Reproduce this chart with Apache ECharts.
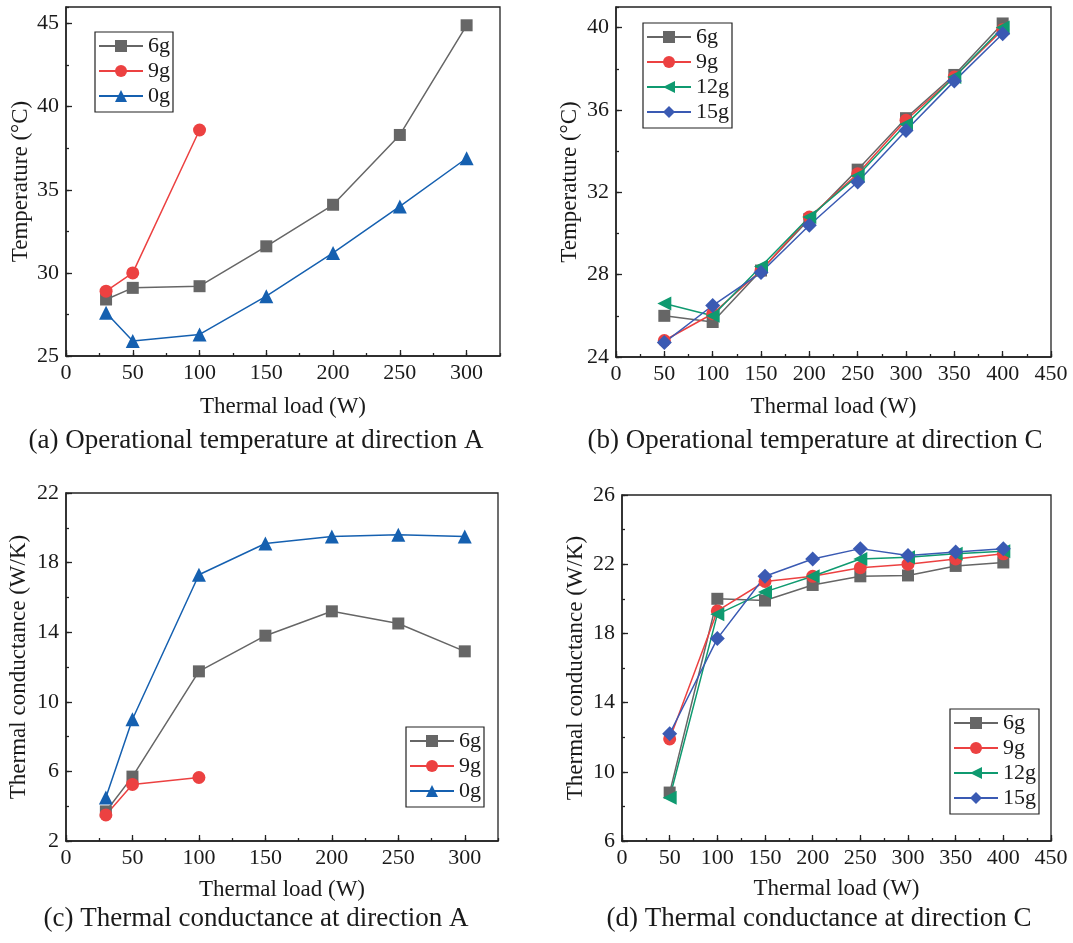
<!DOCTYPE html>
<html>
<head>
<meta charset="utf-8">
<title>Thermal load</title>
<script src="https://cdn.jsdelivr.net/npm/echarts@6/dist/echarts.min.js"></script>
<style>
    html, body { margin: 0; padding: 0; background: #fff; }
    #main { width: 1073px; height: 943px; }
</style>
</head>
<body>
<div id="main"></div>
<script>
// x 轴数据
var loadA = [30, 50, 100, 150, 200, 250, 300];
var loadC = [50, 100, 150, 200, 250, 300, 350, 400];

// (a) 方向A 工作温度
var tempA6 = [28.4, 29.1, 29.2, 31.6, 34.1, 38.3, 44.9];
var tempA9 = [28.9, 30.0, 38.6];
var tempA0 = [27.6, 25.9, 26.3, 28.6, 31.2, 34.0, 36.9];

// (b) 方向C 工作温度
var tempC6 = [26.0, 25.7, 28.2, 30.7, 33.1, 35.6, 37.7, 40.2];
var tempC9 = [24.8, 26.1, 28.2, 30.8, 32.9, 35.5, 37.6, 39.9];
var tempC12 = [26.6, 26.0, 28.4, 30.8, 32.8, 35.3, 37.6, 40.0];
var tempC15 = [24.7, 26.5, 28.1, 30.4, 32.5, 35.0, 37.4, 39.7];

// (c) 方向A 热导
var condA6 = [3.7, 5.7, 11.75, 13.8, 15.2, 14.5, 12.9];
var condA9 = [3.5, 5.25, 5.65];
var condA0 = [4.5, 9.0, 17.3, 19.1, 19.5, 19.6, 19.5];

// (d) 方向C 热导
var condC6 = [8.8, 20.0, 19.9, 20.8, 21.3, 21.35, 21.9, 22.1];
var condC9 = [11.9, 19.3, 21.0, 21.3, 21.8, 22.0, 22.3, 22.6];
var condC12 = [8.5, 19.1, 20.4, 21.3, 22.3, 22.4, 22.6, 22.75];
var condC15 = [12.2, 17.7, 21.3, 22.3, 22.9, 22.5, 22.7, 22.9];

var captions = [
    '(a) Operational temperature at direction A',
    '(b) Operational temperature at direction C',
    '(c) Thermal conductance at direction A',
    '(d) Thermal conductance at direction C'
];

(function () {
    "use strict";

    var FONT = '"Liberation Serif", "Times New Roman", serif';
    var TXT = '#1a1a1a';
    var TICK_FS = 22, NAME_FS = 23, CAP_FS = 27, LEG_FS = 22;

    var STYLE = {
        '6g': {color: '#666666', symbol: 'rect', size: 12, rotate: 0},
        '9g': {color: '#ec4141', symbol: 'circle', size: 13, rotate: 0},
        '0g': {color: '#1560b0', symbol: 'triangle', size: 14, rotate: 0},
        '12g': {color: '#0f9a70', symbol: 'triangle', size: 14, rotate: 90},
        '15g': {color: '#3a5ab3', symbol: 'diamond', size: 15, rotate: 0}
    };

    // 每个子图的坐标区与坐标范围
    var panels = [
        {grid: [66, 7, 500, 356], x: [0, 325], y: [25, 46, 5], yName: 'Temperature (\u00b0C)', yCenter: 21,
            legend: [95, 32], lines: [['6g', loadA, tempA6], ['9g', loadA, tempA9], ['0g', loadA, tempA0]],
            xNameY: 407, capX: 256, capY: 441},
        {grid: [616, 7, 1051, 357], x: [0, 450], y: [24, 41, 4], yName: 'Temperature (\u00b0C)', yCenter: 570,
            legend: [643, 23], lines: [['6g', loadC, tempC6], ['9g', loadC, tempC9], ['12g', loadC, tempC12], ['15g', loadC, tempC15]],
            xNameY: 407, capX: 815, capY: 441},
        {grid: [66, 493, 498, 841], x: [0, 325], y: [2, 22, 4], yName: 'Thermal conductance (W/K)', yCenter: 19,
            legend: [406, 727], lines: [['6g', loadA, condA6], ['9g', loadA, condA9], ['0g', loadA, condA0]],
            xNameY: 890, capX: 256, capY: 919},
        {grid: [622, 495, 1051, 841], x: [0, 450], y: [6, 26, 4], yName: 'Thermal conductance (W/K)', yCenter: 576,
            legend: [950, 709], lines: [['6g', loadC, condC6], ['9g', loadC, condC9], ['12g', loadC, condC12], ['15g', loadC, condC15]],
            xNameY: 889, capX: 819, capY: 919}
    ];

    var grids = [], xAxes = [], yAxes = [], series = [], legends = [], graphics = [];

    var labelStyle = {fontFamily: FONT, fontSize: TICK_FS, color: TXT};
    var nameStyle = {fontFamily: FONT, fontSize: NAME_FS, color: TXT};

    panels.forEach(function (p, i) {
        var g = p.grid;
        grids.push({
            left: g[0], top: g[1], width: g[2] - g[0], height: g[3] - g[1],
            show: true, borderColor: '#222', borderWidth: 1.3, backgroundColor: 'transparent'
        });

        // 主刻度轴
        xAxes.push({
            type: 'value', gridIndex: i, position: 'bottom', min: p.x[0], max: p.x[1], interval: 50,
            name: 'Thermal load (W)', nameLocation: 'middle', nameGap: p.xNameY - g[3] - NAME_FS / 2,
            nameTextStyle: nameStyle,
            axisLine: {show: true, lineStyle: {color: '#222', width: 1.5}},
            axisTick: {show: true, inside: true, length: 6, lineStyle: {color: '#222', width: 1.3}},
            axisLabel: Object.assign({margin: 6, showMaxLabel: p.x[1] % 50 === 0}, labelStyle),
            splitLine: {show: false}
        });
        // 次刻度轴
        xAxes.push({
            type: 'value', gridIndex: i, position: 'bottom', min: p.x[0], max: p.x[1], interval: 25,
            axisLine: {show: false},
            axisTick: {show: true, inside: true, length: 3, lineStyle: {color: '#222', width: 1.3}},
            axisLabel: {show: false}, splitLine: {show: false}
        });

        yAxes.push({
            type: 'value', gridIndex: i, position: 'left', min: p.y[0], max: p.y[1], interval: p.y[2],
            name: p.yName, nameLocation: 'middle', nameGap: g[0] - p.yCenter - NAME_FS / 2,
            nameTextStyle: nameStyle,
            axisLine: {show: true, lineStyle: {color: '#222', width: 1.5}},
            axisTick: {show: true, inside: true, length: 6, lineStyle: {color: '#222', width: 1.3}},
            axisLabel: Object.assign({margin: 7, showMaxLabel: (p.y[1] - p.y[0]) % p.y[2] === 0}, labelStyle),
            splitLine: {show: false}
        });
        yAxes.push({
            type: 'value', gridIndex: i, position: 'left', min: p.y[0], max: p.y[1], interval: p.y[2] / 2,
            axisLine: {show: false},
            axisTick: {show: true, inside: true, length: 3, lineStyle: {color: '#222', width: 1.3}},
            axisLabel: {show: false}, splitLine: {show: false}
        });

        var names = [];
        p.lines.forEach(function (ln) {
            var st = STYLE[ln[0]];
            var pts = ln[2].map(function (v, k) { return [ln[1][k], v]; });
            names.push(ln[0]);
            series.push({
                type: 'line', name: ln[0], xAxisIndex: i * 2, yAxisIndex: i * 2,
                data: pts, symbol: st.symbol, symbolSize: st.size, symbolRotate: st.rotate,
                showAllSymbol: true, animation: false,
                lineStyle: {color: st.color, width: 1.5},
                itemStyle: {color: st.color}
            });
        });

        legends.push({
            orient: 'vertical', left: p.legend[0], top: p.legend[1],
            data: names, itemWidth: 44, itemHeight: 15, itemGap: 3,
            padding: [3, 3, 5, 3],
            borderColor: '#222', borderWidth: 1.2, backgroundColor: '#fff',
            textStyle: {fontFamily: FONT, fontSize: LEG_FS, color: TXT, lineHeight: 22},
            selectedMode: false
        });

        graphics.push({
            type: 'text', x: p.capX, y: p.capY,
            style: {text: captions[i], font: CAP_FS + 'px ' + FONT, fill: TXT, textAlign: 'center', textVerticalAlign: 'middle'}
        });
    });

    var chart = echarts.init(document.getElementById('main'), null, {renderer: 'canvas'});
    chart.setOption({
        backgroundColor: '#fff',
        animation: false,
        grid: grids,
        xAxis: xAxes,
        yAxis: yAxes,
        legend: legends,
        series: series,
        graphic: graphics
    });
})();
</script>
</body>
</html>
